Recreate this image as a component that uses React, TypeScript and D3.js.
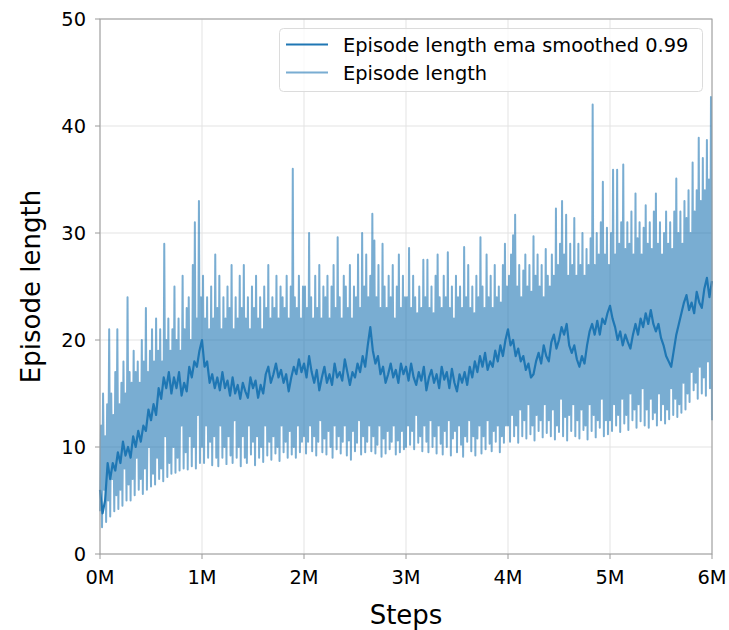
import React from "react";
import * as d3 from "d3";

// ---- data ----
const RAW_STEP = 10000; // steps between consecutive raw points
// raw episode length: troughs at even indices (0, 20k, 40k ...), peaks at odd indices (10k, 30k ...)
const rawPeaks: number[] = [
  // 0M - 1M
  12, 15, 11, 14, 21, 15, 13, 17, 21, 14,
  16, 18, 15, 24, 17, 16, 19, 17, 18, 16,
  20, 18, 23, 17, 19, 21, 18, 22, 19, 21,
  18, 29, 20, 22, 19, 21, 25, 20, 22, 19,
  26, 21, 23, 24, 20, 27, 31, 22, 33, 24,
  // 1M - 2M
  26, 22, 24, 21, 25, 22, 28, 23, 26, 21,
  24, 22, 25, 23, 27, 21, 24, 22, 26, 23,
  27, 22, 24, 21, 25, 23, 26, 22, 24, 21,
  25, 23, 27, 22, 24, 23, 26, 22, 25, 24,
  23, 26, 22, 25, 36, 24, 23, 26, 22, 25,
  // 2M - 3M
  25, 23, 30, 24, 22, 26, 23, 27, 22, 25,
  24, 26, 22, 25, 27, 23, 29.6, 24, 22, 26,
  25, 23, 27, 22, 25, 24, 28, 23, 30, 25,
  28, 24, 26, 31.8, 29.3, 24, 27, 23, 29, 25,
  23, 26, 24, 27, 22, 25, 28, 23, 26, 24,
  // 3M - 4M
  24, 28.6, 23, 26, 24, 22.5, 25, 23, 27.5, 24,
  27.5, 23, 25, 22.5, 26, 28, 24, 23, 26, 24,
  28.2, 23, 25, 22, 26, 24, 25, 23, 28.7, 24,
  27, 23, 25, 22.5, 26, 24, 29.6, 25, 23, 28,
  24, 26, 23, 27, 24, 25, 23.5, 27, 29, 25,
  // 4M - 5M
  26, 28, 29.8, 31.7, 25, 27, 24, 26.5, 28, 25,
  27, 24.5, 29.7, 26, 28, 25, 27, 24, 28.5, 26,
  25, 28, 26, 32.3, 27, 29, 33, 28, 31.7, 26,
  29, 27, 31.4, 26, 29, 27, 30, 26, 28.5, 27,
  29.5, 42, 27, 30, 28, 31, 34.8, 28, 30.5, 27,
  // 5M - 6M
  30, 35.9, 28, 35.9, 29, 31, 36.4, 28.5, 31, 29,
  32, 28, 33.7, 29.5, 31, 28, 30.5, 32.6, 29, 31,
  28.5, 32, 33.7, 29, 31, 28, 30, 32, 29, 31,
  28.5, 32, 35.1, 30, 32, 29, 33, 31.4, 34, 30,
  36.6, 32, 34, 38.9, 33, 37, 34, 38.7, 35, 42.7,
];
const rawTroughs: number[] = [
  // 0M - 1M
  4, 2.5, 6, 3, 5, 3.5, 7, 4, 5.5, 4.2,
  6, 4.5, 8, 5, 6.5, 5, 7, 5.5, 9, 6,
  7, 5.6, 8, 6, 10, 6.3, 7.5, 6.5, 9, 7,
  8, 6.8, 11, 7.2, 8.5, 7.5, 10, 7.6, 9, 7.8,
  12, 8, 9.5, 7.9, 11, 8.2, 10, 8, 13, 8.5,
  // 1M - 2M
  10, 8.5, 12, 9, 10.5, 8.3, 11, 9, 8.2, 12,
  9, 10, 8.4, 11, 9.2, 8.5, 12.5, 9, 10, 8.2,
  11, 9, 8.5, 12, 9.3, 10.5, 8.3, 11, 9, 10,
  8.6, 12, 9.2, 10.5, 8.8, 11, 9.4, 10, 8.7, 12,
  9.5, 10.5, 9, 11.5, 9.3, 10, 9, 12, 9.5, 10.5,
  // 2M - 3M
  11, 9.4, 10.5, 12, 9.6, 11, 9.2, 10.5, 12.5, 9.5,
  10.8, 9.3, 11.5, 10, 9, 12, 9.8, 11, 9.4, 10.5,
  12, 9.2, 10.6, 8.8, 11.5, 9.6, 10.4, 12.5, 9.3, 11,
  9.5, 10.5, 12, 9.6, 11, 9.4, 10.2, 12, 9.1, 10.8,
  9.4, 11.5, 9.8, 10.5, 12, 9.3, 10.6, 9.5, 11.5, 9.8,
  // 3M - 4M
  10, 12, 10.2, 11.5, 9.8, 13, 10.4, 11, 9.6, 12,
  10.5, 9.5, 12.5, 10, 11, 9.4, 12, 10.3, 9.3, 11.5,
  10, 12.5, 9.2, 10.8, 11.5, 9.5, 12, 10.2, 9.1, 11,
  10.5, 12.5, 9.6, 11, 9.2, 10.8, 12, 9.4, 11, 9.8,
  12.5, 10.3, 9.6, 11.5, 10.5, 12, 9.5, 11, 10.4, 12,
  // 4M - 5M
  12, 10.5, 13, 11, 12, 10.4, 13.5, 11, 12.5, 10.8,
  14, 11.2, 12, 10.6, 13, 11.5, 12.5, 10.9, 14, 11.3,
  12.5, 11, 13.5, 10.7, 12, 11.4, 14.5, 11, 12.8, 10.6,
  13, 11.5, 14, 11, 12.5, 10.8, 13.5, 11.6, 12, 10.7,
  14, 11.5, 13, 10.9, 12.5, 11.8, 14.5, 11, 12.5, 11.2,
  // 5M - 6M
  12.5, 11.5, 14, 12, 13, 11.4, 14.5, 12.2, 13, 11.6,
  15, 12.5, 13.5, 11.8, 14, 12.4, 15.5, 12, 13.5, 11.8,
  14.5, 12.6, 13.2, 12, 15, 12.5, 14, 12.2, 13.5, 12.6,
  15.5, 13, 14.5, 12.8, 14, 13.2, 16, 13.5, 15, 14.2,
  17, 15.3, 16, 14.5, 17.5, 15, 16.5, 14.8, 18, 15.5,
  12.5,
];
const SMOOTH_STEP = 25000;
const smoothed: number[] = [
  // 0M - 1M
  6, 3.8, 5, 8.5, 7, 8.5, 7.8, 9.5, 8.5, 10.5,
  9.2, 10, 9, 11, 10, 11.5, 10.5, 12, 11.5, 13.5,
  12.5, 14, 13, 15.5, 14.5, 16.5, 15.5, 17, 15, 16.5,
  15.5, 17, 14.8, 16, 15.2, 17.5, 16.5, 18, 17.5, 19,
  // 1M - 2M
  20, 17.5, 18, 16, 16.8, 15.5, 16.5, 15.3, 17, 15.5,
  16.2, 14.8, 16.5, 15, 15.8, 14.5, 16, 15.2, 14.6, 16.5,
  15.5, 16.2, 14.6, 15.8, 15, 16.8, 17.5, 16, 16.8, 17.8,
  16.5, 17.2, 16, 16.8, 15.2, 16.5, 17.5, 16.8, 18.2, 17,
  // 2M - 3M
  17.8, 16.5, 18.5, 17, 16, 17.2, 15.3, 16.5, 17.5, 16,
  16.8, 15.8, 17.8, 16.5, 17, 16.2, 18.2, 17, 15.8, 17,
  16.5, 17.8, 17, 18.5, 17.5, 19.5, 21.2, 19, 17.8, 18.5,
  16.8, 17.5, 16, 16.8, 17.8, 16.5, 17.2, 16, 17.8, 16.8,
  // 3M - 4M
  17.5, 16.2, 17.8, 16.5, 15.8, 17, 16.2, 17.5, 15.3, 16.5,
  17.2, 16, 16.8, 15.5, 17.5, 16.3, 17, 15.5, 17.3, 16,
  15.2, 16.8, 16, 17, 15.8, 17.5, 16.5, 18, 17, 18.5,
  17.5, 18.8, 17.2, 18, 17.5, 19, 18, 19.5, 18.5, 20,
  // 4M - 5M
  21, 19.5, 20, 18.5, 19.2, 18, 18.5, 17.2, 17.8, 16.5,
  16.8, 18, 18.8, 17.8, 19.5, 18.5, 18, 19.8, 20.5, 19.2,
  20, 21.2, 20.5, 21.5, 19.5, 18.8, 19.5, 18.2, 17.5, 18.5,
  17.8, 19.5, 20.8, 21.5, 20.5, 21.8, 20.5, 22, 21.5, 22.5,
  // 5M - 6M
  23.2, 22, 21.2, 20, 20.8, 19.5, 20.5, 19.8, 19.2, 20.5,
  21.5, 20.5, 22, 21.2, 22.5, 21.5, 22.8, 21.5, 20.8, 21.5,
  20.2, 19.5, 18.5, 18, 17.5, 19, 20.5, 21.5, 22.5, 23.5,
  24.2, 22.8, 23.5, 22.5, 24.5, 23.5, 23, 24.8, 25.8, 24,
  25.5,
];
const xTickValues = [0, 1, 2, 3, 4, 5, 6];
const xTickLabels = ["0M", "1M", "2M", "3M", "4M", "5M", "6M"];
const yTickValues = [0, 10, 20, 30, 40, 50];
const legendLabels = ["Episode length ema smoothed 0.99", "Episode length"];
const xLabel = "Steps";
const yLabel = "Episode length";

// ---- layout ----
const W = 729;
const H = 630;
const L = 100, R = 712, T = 19, B = 554;
const BLUE = "#1f77b4";
const FONT = "DejaVu Sans, sans-serif";

export default function App() {
  const x = d3.scaleLinear().domain([0, 6e6]).range([L, R]);
  const y = d3.scaleLinear().domain([0, 50]).range([B, T]);

  const raw: [number, number][] = [];
  const n = rawPeaks.length + rawTroughs.length;
  for (let i = 0; i < n; i++) {
    const v = i % 2 === 0 ? rawTroughs[i / 2] : rawPeaks[(i - 1) / 2];
    raw.push([i * RAW_STEP, v]);
  }
  const sm: [number, number][] = smoothed.map((v, i) => [i * SMOOTH_STEP, v]);

  const line = d3
    .line<[number, number]>()
    .x((d) => x(d[0]))
    .y((d) => y(d[1]));

  const gridColor = "#e3e3e3";
  const spineColor = "#9a9a9a";

  return (
    <svg
      width={W}
      height={H}
      style={{ position: "absolute", left: 0, top: 0, background: "#fff" }}
      fontFamily={FONT}
    >
      <rect x={0} y={0} width={W} height={H} fill="#fff" />
      {/* grid */}
      {xTickValues.map((t) => (
        <line key={"gx" + t} x1={x(t * 1e6)} x2={x(t * 1e6)} y1={T} y2={B} stroke={gridColor} strokeWidth={1} />
      ))}
      {yTickValues.map((t) => (
        <line key={"gy" + t} x1={L} x2={R} y1={y(t)} y2={y(t)} stroke={gridColor} strokeWidth={1} />
      ))}
      {/* data */}
      <path d={line(raw) || ""} fill="none" stroke={BLUE} strokeOpacity={0.6} strokeWidth={2} strokeLinejoin="round" />
      <path d={line(sm) || ""} fill="none" stroke={BLUE} strokeWidth={2.2} strokeLinejoin="round" />
      {/* spines */}
      <rect x={L} y={T} width={R - L} height={B - T} fill="none" stroke={spineColor} strokeWidth={1} />
      {/* x ticks */}
      {xTickValues.map((t, i) => (
        <g key={"xt" + t}>
          <line x1={x(t * 1e6)} x2={x(t * 1e6)} y1={B} y2={B + 5} stroke={spineColor} />
          <text x={x(t * 1e6)} y={B + 30} textAnchor="middle" fontSize={19.4} fill="#000">
            {xTickLabels[i]}
          </text>
        </g>
      ))}
      {/* y ticks */}
      {yTickValues.map((t) => (
        <g key={"yt" + t}>
          <line x1={L - 5} x2={L} y1={y(t)} y2={y(t)} stroke={spineColor} />
          <text x={L - 14} y={y(t) + 7} textAnchor="end" fontSize={19.4} fill="#000">
            {t}
          </text>
        </g>
      ))}
      {/* axis labels */}
      <text x={(L + R) / 2} y={624} textAnchor="middle" fontSize={26} fill="#000">
        {xLabel}
      </text>
      <text
        transform={`translate(40, ${(T + B) / 2}) rotate(-90)`}
        textAnchor="middle"
        fontSize={26}
        fill="#000"
      >
        {yLabel}
      </text>
      {/* legend */}
      <g>
        <rect x={279.5} y={28.5} width={423} height={63} rx={4} ry={4} fill="#fff" fillOpacity={0.8} stroke="#dcdcdc" />
        <line x1={286} x2={328} y1={44.5} y2={44.5} stroke={BLUE} strokeWidth={2} />
        <text x={343} y={52} fontSize={19.4} fill="#000">{legendLabels[0]}</text>
        <line x1={286} x2={328} y1={72.5} y2={72.5} stroke={BLUE} strokeOpacity={0.6} strokeWidth={2} />
        <text x={343} y={80} fontSize={19.4} fill="#000">{legendLabels[1]}</text>
      </g>
    </svg>
  );
}
